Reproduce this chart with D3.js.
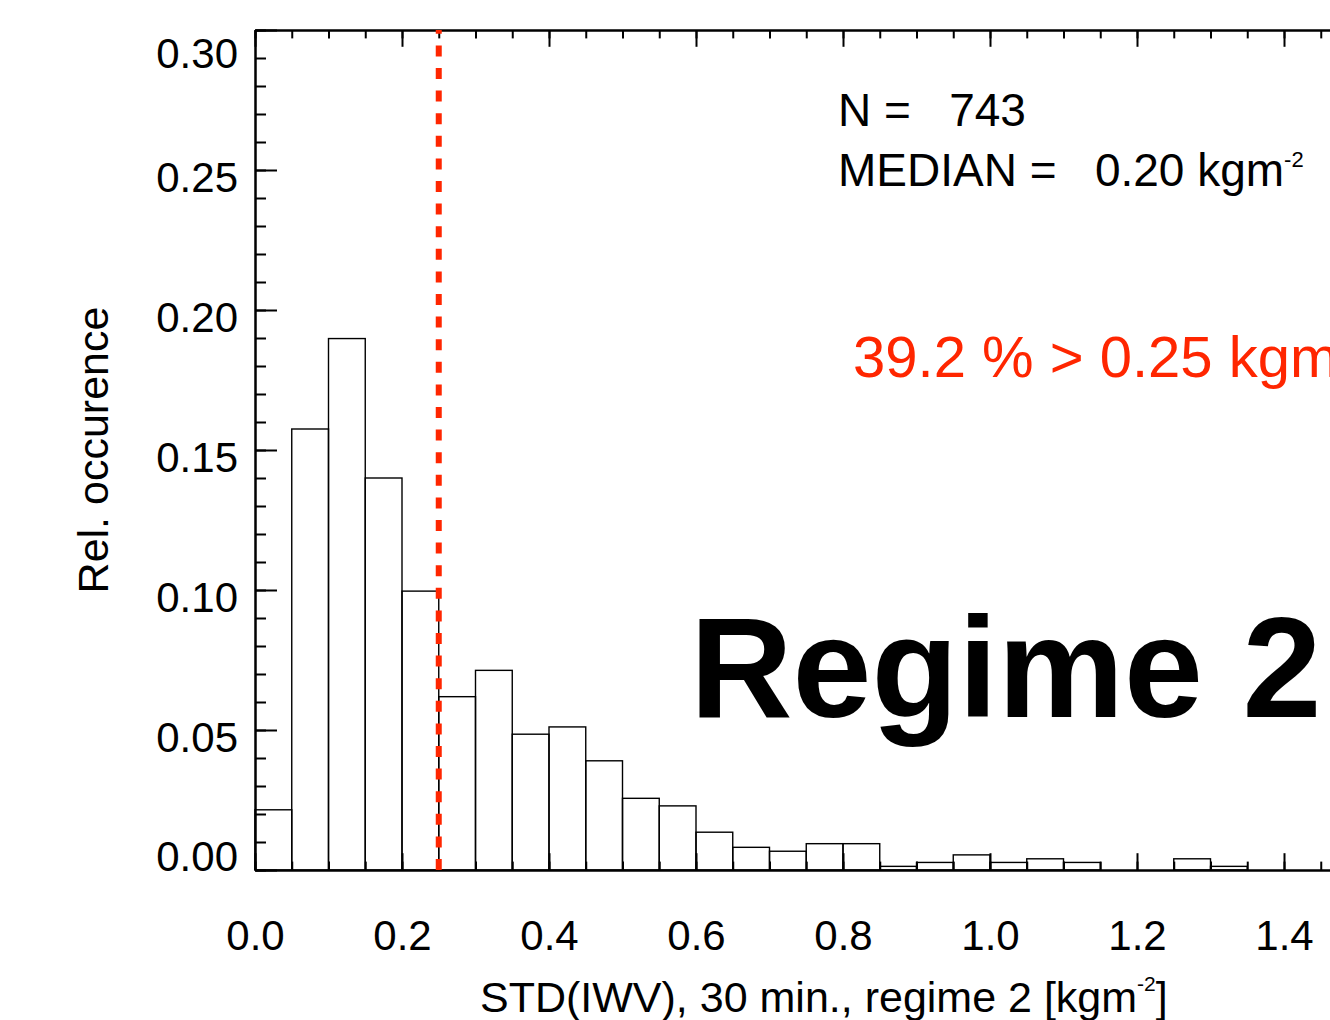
<!DOCTYPE html>
<html>
<head>
<meta charset="utf-8">
<script src="https://cdn.jsdelivr.net/npm/d3@7"></script>
<style>
  body { margin: 0; background: #fff; overflow: hidden; }
  svg { display: block; font-family: "Liberation Sans", Arial, Helvetica, sans-serif; }
  .axis path, .axis line { stroke: #000; stroke-width: 2; }
  .axis text { fill: #000; }
  .bar { fill: none; stroke: #000; stroke-width: 1.4; }
</style>
</head>
<body>
<svg id="hist-regime2" width="1330" height="1020"></svg>
<script>

// ----- Data ---------------------------------------------------------------
var BIN_WIDTH = 0.05;
var BIN_STARTS = [0.00, 0.05, 0.10, 0.15, 0.20, 0.25, 0.30, 0.35, 0.40,
                  0.45, 0.50, 0.55, 0.60, 0.65, 0.70, 0.75, 0.80, 0.85,
                  0.90, 0.95, 1.00, 1.05, 1.10, 1.15, 1.20, 1.25, 1.30];
var REL_OCC = [0.0215, 0.1575, 0.1898, 0.1400, 0.0996, 0.0619, 0.0713, 0.0485,
               0.0511, 0.0390, 0.0256, 0.0229, 0.0135, 0.0081, 0.0067, 0.0094,
               0.0094, 0.0013, 0.0027, 0.0054, 0.0027, 0.0040, 0.0027, 0.0000,
               0.0000, 0.0040, 0.0013];

var X_TICKS = [0.0, 0.2, 0.4, 0.6, 0.8, 1.0, 1.2, 1.4];
var Y_TICKS = [0.00, 0.05, 0.10, 0.15, 0.20, 0.25, 0.30];

var N_OBS = 743;
var MEDIAN = 0.20;
var THRESHOLD = 0.25;
var PCT_ABOVE = 39.2;

var X_LABEL = 'STD(IWV), 30 min., regime 2 [kgm';
var Y_LABEL = 'Rel. occurence';
var REGIME = 'Regime 2';

var RED = '#ff2600';

// ----- SVG setup ----------------------------------------------------------
var svg = d3.select('#hist-regime2');

var x = d3.scaleLinear().domain([0, 1.5]).range([255, 1357.5]);
var y = d3.scaleLinear().domain([0, 0.30]).range([870, 30]);

var X_TICK_LEN = 16.8;
var Y_TICK_LEN = 22;

// ----- Bars ---------------------------------------------------------------
var data = BIN_STARTS.map(function(b, i) { return { x0: b, v: REL_OCC[i] }; })
  .filter(function(d) { return d.v > 0; });

svg.append('g').selectAll('.bar')
    .data(data)
  .enter().append('rect')
    .attr('class', 'bar')
    .attr('x', function(d) { return x(d.x0); })
    .attr('y', function(d) { return y(d.v); })
    .attr('width', function(d) { return x(d.x0 + BIN_WIDTH) - x(d.x0); })
    .attr('height', function(d) { return y(0) - y(d.v); });

// ----- Axes ---------------------------------------------------------------
var xMinor = d3.range(0, 1.5001, BIN_WIDTH);
var yMinor = d3.range(0, 0.3001, 0.01);

function minorTicks(axisFn, vals, len) {
  return axisFn.tickValues(vals).tickSize(len).tickSizeOuter(0).tickFormat('');
}

// bottom
svg.append('g')
    .attr('class', 'x axis minor')
    .attr('transform', 'translate(0,' + y(0) + ')')
    .call(minorTicks(d3.axisBottom(x), xMinor, -X_TICK_LEN / 2));

svg.append('g')
    .attr('class', 'x axis')
    .attr('transform', 'translate(0,' + y(0) + ')')
    .call(d3.axisBottom(x)
      .tickValues(X_TICKS)
      .tickSize(-X_TICK_LEN)
      .tickSizeOuter(0)
      .tickPadding(50)
      .tickFormat(d3.format('.1f')))
  .selectAll('text')
    .style('font-size', '42px');

// top
svg.append('g')
    .attr('class', 'x axis minor')
    .attr('transform', 'translate(0,' + y(0.30) + ')')
    .call(minorTicks(d3.axisTop(x), xMinor, -X_TICK_LEN / 2));

svg.append('g')
    .attr('class', 'x axis')
    .attr('transform', 'translate(0,' + y(0.30) + ')')
    .call(d3.axisTop(x).tickValues(X_TICKS).tickSize(-X_TICK_LEN)
      .tickSizeOuter(0).tickFormat(''));

// left
svg.append('g')
    .attr('class', 'y axis minor')
    .attr('transform', 'translate(' + x(0) + ',0)')
    .call(minorTicks(d3.axisLeft(y), yMinor, -Y_TICK_LEN / 2));

svg.append('g')
    .attr('class', 'y axis')
    .attr('transform', 'translate(' + x(0) + ',0)')
    .call(d3.axisLeft(y)
      .tickValues(Y_TICKS)
      .tickSize(-Y_TICK_LEN)
      .tickSizeOuter(0)
      .tickPadding(17)
      .tickFormat(d3.format('.2f')))
  .selectAll('text')
    .style('font-size', '42px')
    // end labels are pulled inside the axis range
    .attr('dy', function(d) { return d === 0.30 ? '37px' : (d === 0 ? '0px' : '21.5px'); });

// right (falls just outside the picture)
svg.append('g')
    .attr('class', 'y axis')
    .attr('transform', 'translate(' + x(1.5) + ',0)')
    .call(d3.axisRight(y).tickValues(Y_TICKS).tickSize(-Y_TICK_LEN)
      .tickSizeOuter(0).tickFormat(''));

// ----- Threshold line -----------------------------------------------------
svg.append('line')
    .attr('x1', x(THRESHOLD)).attr('x2', x(THRESHOLD))
    .attr('y1', y(0)).attr('y2', y(0.30))
    .attr('stroke', RED)
    .attr('stroke-width', 6)
    .attr('stroke-dasharray', '11,11.6');

// ----- Labels -------------------------------------------------------------
var xl = svg.append('text')
    .attr('x', 480).attr('y', 1012)
    .style('font-size', '43px')
    .text(X_LABEL);
xl.append('tspan').attr('dy', -21).style('font-size', '21px').text('-2');
xl.append('tspan').attr('dy', 21).style('font-size', '43px').text(']');

svg.append('text')
    .attr('transform', 'translate(108,450) rotate(-90)')
    .attr('text-anchor', 'middle')
    .style('font-size', '43px')
    .text(Y_LABEL);

svg.append('text')
    .attr('x', 838).attr('y', 126)
    .style('font-size', '46px')
    .style('white-space', 'pre')
    .text('N =   ' + N_OBS);

var med = svg.append('text')
    .attr('x', 838).attr('y', 186)
    .style('font-size', '46px')
    .style('white-space', 'pre')
    .text('MEDIAN =   ' + MEDIAN.toFixed(2) + ' kgm');
med.append('tspan').attr('dy', -19).style('font-size', '22px').text('-2');

var pct = svg.append('text')
    .attr('x', 853).attr('y', 377)
    .attr('fill', RED)
    .style('font-size', '58px')
    .style('white-space', 'pre')
    .text(PCT_ABOVE.toFixed(1) + ' % > ' + THRESHOLD.toFixed(2) + ' kgm');
pct.append('tspan').attr('dy', -26).style('font-size', '28px').text('-2');

svg.append('text')
    .attr('x', 690).attr('y', 717)
    .style('font-size', '142px')
    .style('font-weight', 'bold')
    .text(REGIME);

</script>
</body>
</html>
